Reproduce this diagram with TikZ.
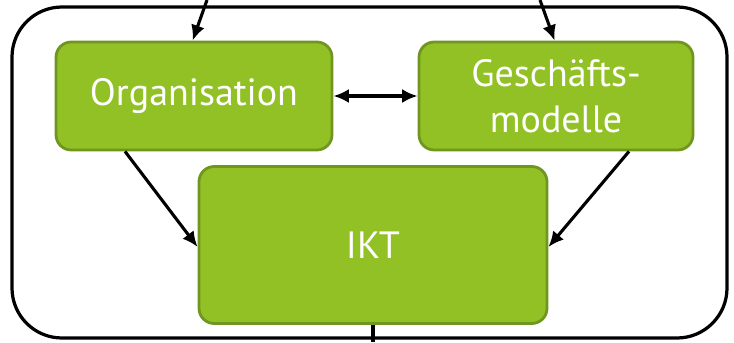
\documentclass[tikz,border=0pt]{standalone}
\usepackage{fontspec}
\setmainfont{PT Sans}
\usetikzlibrary{positioning, arrows.meta}

\definecolor{boxgreen}{RGB}{146,193,38}
\definecolor{boxedge}{RGB}{112,150,32}

\begin{document}
\begin{tikzpicture}[x=0.025cm, y=-0.025cm, thick,
    greenbox/.style={draw=boxedge, line width=2pt, fill=boxgreen, rounded corners=0.38cm,
        text=white, font=\fontsize{27}{33}\selectfont, align=center, inner sep=0pt},
    link/.style={line width=2.2pt, -{Latex[length=11pt, width=10pt]}}]
    % Frame
    \useasboundingbox (0,0) rectangle (734,342);
    \draw[line width=2.3pt, rounded corners=1.25cm] (12,7) rectangle (727,338);

    % Boxes
    \node[greenbox, minimum width=276*0.025cm, minimum height=108*0.025cm] (org) at (194,96) {Organisation};
    \node[greenbox, minimum width=274*0.025cm, minimum height=108*0.025cm] (gm) at (556,96) {Gesch\"afts-\\modelle};
    \node[greenbox, minimum width=348*0.025cm, minimum height=157*0.025cm] (ikt) at (373,245) {IKT};

    % Free ends
    \coordinate (inL) at (207,0);
    \coordinate (inR) at (540,0);
    \coordinate (out) at (373,342);

    % Arrows
    \draw[link] (inL) -- ([xshift=-1pt]org.north);
    \draw[link] (inR) -- ([xshift=-1pt]gm.north);
    \draw[link, {Latex[length=11pt, width=10pt]}-{Latex[length=11pt, width=10pt]}] (org) -- (gm);
    \draw[link] ([xshift=-69*0.025cm]org.south) -- ([yshift=-2*0.025cm]ikt.west);
    \draw[link] ([xshift=73*0.025cm]gm.south) -- ([yshift=-2*0.025cm]ikt.east);
    \draw[line width=2.2pt] (ikt) -- (out);
\end{tikzpicture}
\end{document}
